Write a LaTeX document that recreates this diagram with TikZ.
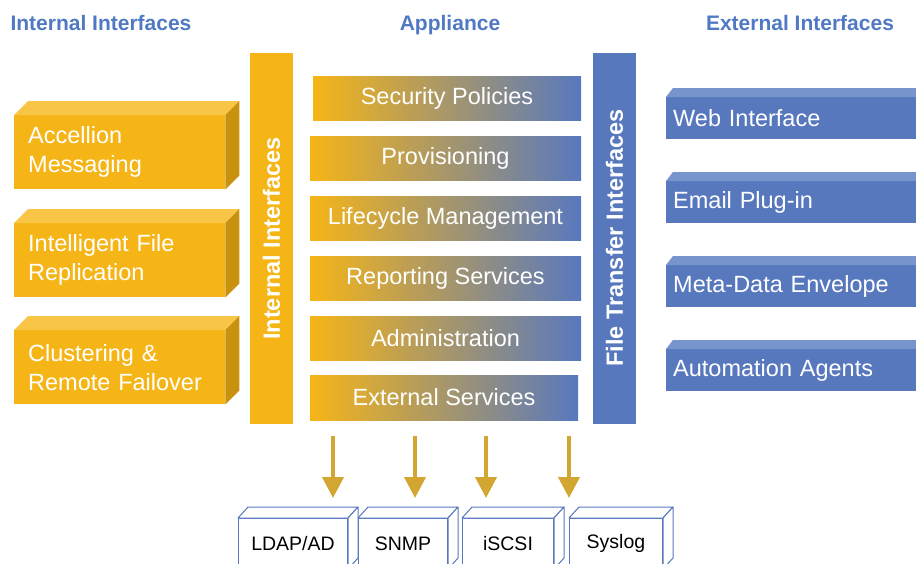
\documentclass[tikz,border=0pt]{standalone}
\usepackage{fontspec}
\setmainfont{Liberation Sans}
\usetikzlibrary{arrows.meta}

\definecolor{amber}{HTML}{F6B517}
\definecolor{ambertop}{HTML}{F8C546}
\definecolor{amberside}{HTML}{C8920F}
\definecolor{steel}{HTML}{5878BE}
\definecolor{steeltop}{HTML}{7894CC}
\definecolor{blend}{HTML}{CDA488}
\definecolor{headblue}{HTML}{5079C4}
\definecolor{gold}{HTML}{D2A631}

\tikzset{
  title/.style={font=\fontsize{21}{24}\selectfont\bfseries, text=headblue, anchor=base},
  leftbox/.style={fill=amber, text=white, anchor=north west, minimum height=74pt,
    text width=183pt, inner xsep=14pt, align=left, font=\fontsize{23.5}{29}\selectfont},
  rightbox/.style={fill=steel, text=white, anchor=north west, minimum height=42pt,
    text width=236pt, inner xsep=7pt, inner ysep=0pt, align=left, font=\fontsize{23.5}{28}\selectfont},
  sidebar/.style={rotate=90, minimum width=371pt, minimum height=43pt, inner sep=0pt,
    text=white, font=\fontsize{23.5}{28}\selectfont\bfseries},
  svcbar/.style={left color=amber, middle color=blend, right color=steel, text=white,
    minimum width=271pt, minimum height=44pt, inner sep=0pt, font=\fontsize{23.5}{28}\selectfont},
  extbox/.style={draw=steel, line width=1pt, fill=white, anchor=north west,
    minimum height=50pt, inner sep=0pt, font=\fontsize{19.5}{22}\selectfont},
  feed/.style={draw=gold, line width=4pt, -{Triangle[width=21pt,length=21pt]}},
}

\begin{document}
\begin{tikzpicture}[x=1pt,y=-1pt]
    \useasboundingbox (0,0) rectangle (916,563);

    % headings
    \node[title] (hint) at (101,30) {Internal Interfaces};
    \node[title] (happ) at (450,30) {Appliance};
    \node[title] (hext) at (800,30) {External Interfaces};

    % internal interfaces
    \node[leftbox] (acc) at (14,115) {Accellion\\Messaging};
    \node[leftbox] (ifr) at (14,223) {Intelligent File\\Replication};
    \node[leftbox] (clu) at (14,330) {Clustering \&\\Remote Failover};
    \foreach \n in {acc,ifr,clu} {
        \fill[ambertop] (\n.north west) -- ++(14pt,14pt) -- ([shift={(14pt,14pt)}]\n.north east) -- (\n.north east) -- cycle;
        \fill[amberside] (\n.north east) -- ++(14pt,14pt) -- ([shift={(14pt,14pt)}]\n.south east) -- (\n.south east) -- cycle;
    }

    % side bars
    \node[sidebar, fill=amber] (ii) at (271.5,238.5) {Internal Interfaces};
    \node[sidebar, fill=steel] (fti) at (614.5,238) {File Transfer Interfaces};

    % appliance services
    \node[svcbar, minimum width=268pt] (sec) at (447,98) {Security Policies};
    \node[svcbar] (prov) at (445.5,158) {Provisioning};
    \node[svcbar] (lcm) at (445.5,218) {Lifecycle Management};
    \node[svcbar] (rep) at (445.5,278) {Reporting Services};
    \node[svcbar] (adm) at (445.5,338) {Administration};
    \node[svcbar, minimum width=268pt, minimum height=45pt] (ext) at (444,397.5) {External Services};

    % external interfaces
    \node[rightbox] (web) at (666,97) {Web Interface};
    \node[rightbox] (mail) at (666,181) {Email Plug-in};
    \node[rightbox] (meta) at (666,265) {Meta-Data Envelope};
    \node[rightbox] (auto) at (666,349) {Automation Agents};
    \foreach \n in {web,mail,meta,auto} {
        \fill[steeltop] (\n.north west) -- ++(7pt,9pt) -- ([shift={(7pt,9pt)}]\n.north east) -- (\n.north east) -- cycle;
    }

    % external services
    \node[extbox, minimum width=109pt] (ldap) at (238,518) {LDAP/AD};
    \node[extbox, minimum width=89pt] (snmp) at (358,518) {SNMP};
    \node[extbox, minimum width=91pt] (iscsi) at (462,518) {iSCSI};
    \node[extbox, minimum width=93pt] (sysl) at (569,518) {Syslog};
    \foreach \n in {ldap,snmp,iscsi,sysl} {
        \filldraw[draw=steel, fill=white, line width=1pt, line join=round] (\n.north west) -- ++(10pt,11pt) -- ([shift={(10pt,11pt)}]\n.north east) -- (\n.north east) -- cycle;
        \filldraw[draw=steel, fill=white, line width=1pt, line join=round] (\n.north east) -- ++(10pt,11pt) -- ([shift={(10pt,11pt)}]\n.south east) -- (\n.south east) -- cycle;
    }

    % feeds
    \coordinate (t1) at (333,498);
    \coordinate (t2) at (415,498);
    \coordinate (t3) at (486,498);
    \coordinate (t4) at (569,498);
    \draw[feed, shorten <=16pt] (ext.south -| t1) -- (t1);
    \draw[feed, shorten <=16pt] (ext.south -| t2) -- (t2);
    \draw[feed, shorten <=16pt] (ext.south -| t3) -- (t3);
    \draw[feed, shorten <=16pt] (ext.south -| t4) -- (t4);
\end{tikzpicture}
\end{document}
